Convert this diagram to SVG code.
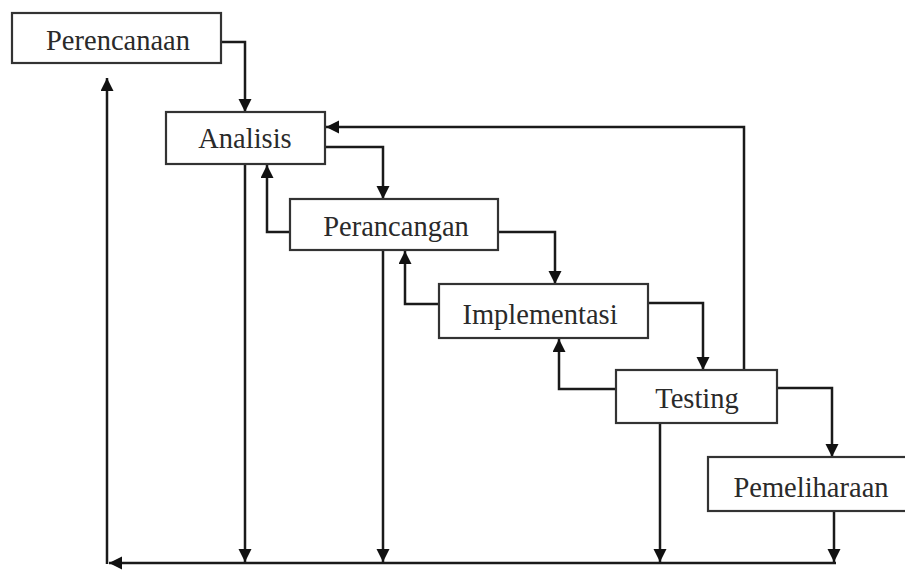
<svg xmlns="http://www.w3.org/2000/svg" width="905" height="570" viewBox="0 0 905 570">
<style>
.box{fill:#fff;stroke:#333;stroke-width:2.2}
.lbl{font-family:"Liberation Serif","Times New Roman",serif;font-size:28.5px;fill:#2a2a2a;text-anchor:middle}
.c{fill:none;stroke:#1a1a1a;stroke-width:2.5}
.a{marker-end:url(#ah)}
</style>
<defs>
<marker id="ah" markerUnits="userSpaceOnUse" markerWidth="16" markerHeight="14" refX="13" refY="6.5" orient="auto">
<path d="M0,0 L13,6.5 L0,13 z" fill="#111"/>
</marker>
</defs>
<rect width="905" height="570" fill="#fff"/>
<g id="connectors">
<path class="c a" d="M221,42 H245 V112"/>
<path class="c a" d="M325,147 H383 V199"/>
<path class="c a" d="M498,232 H555 V284"/>
<path class="c a" d="M648,303 H703 V370"/>
<path class="c a" d="M777,388 H832 V457"/>
<path class="c a" d="M744,370 V127 H326"/>
<path class="c a" d="M290,232 H267 V165"/>
<path class="c a" d="M439,304 H405 V251"/>
<path class="c a" d="M616,389 H559 V339"/>
<path class="c a" d="M245,164 V562"/>
<path class="c a" d="M383,250 V562"/>
<path class="c a" d="M660,423 V562"/>
<path class="c a" d="M834,511 V562"/>
<path class="c a" d="M836,563 H109"/>
<path class="c a" d="M107,564 V78"/>
</g>
<g id="perencanaan"><rect class="box" x="12" y="13" width="209" height="50"/><text class="lbl" x="118" y="50">Perencanaan</text></g>
<g id="analisis"><rect class="box" x="166" y="112" width="159" height="52"/><text class="lbl" x="245" y="148">Analisis</text></g>
<g id="perancangan"><rect class="box" x="290" y="199" width="208" height="51"/><text class="lbl" x="396" y="236">Perancangan</text></g>
<g id="implementasi"><rect class="box" x="439" y="284" width="209" height="54"/><text class="lbl" x="540" y="324">Implementasi</text></g>
<g id="testing"><rect class="box" x="616" y="370" width="161" height="53"/><text class="lbl" x="697" y="408">Testing</text></g>
<g id="pemeliharaan"><rect class="box" x="708" y="457" width="200" height="54"/><text class="lbl" x="811" y="497">Pemeliharaan</text></g>
</svg>
